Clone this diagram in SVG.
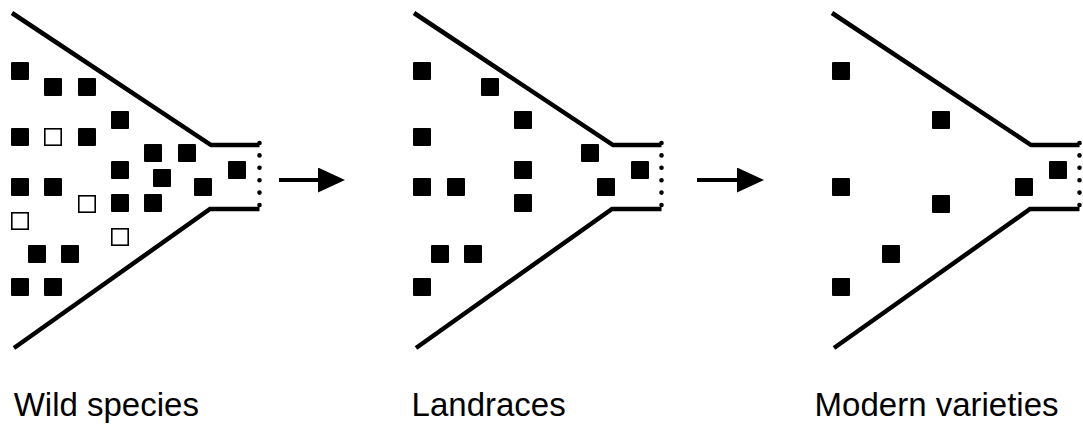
<svg xmlns="http://www.w3.org/2000/svg" width="1083" height="425" viewBox="0 0 1083 425">
  <style>
    .edge { fill: none; stroke: #000; stroke-width: 4.5; stroke-linejoin: miter; }
    .dots { fill: none; stroke: #000; stroke-width: 4.6; stroke-linecap: round; stroke-dasharray: 0 12.4; }
    .sq { fill: #000; }
    .hq { fill: #fff; stroke: #000; stroke-width: 1.6; }
    .arrow { stroke: #000; stroke-width: 4; }
    .label { font-family: "Liberation Sans", Arial, sans-serif; font-size: 33px; fill: #000; }
  </style>
  <defs>
    <g id="funnel">
      <path class="edge" d="M12,13 L211,145 L259.5,145"/>
      <path class="edge" d="M14,348 L210,209 L259.5,209"/>
      <line class="dots" x1="259.5" y1="143" x2="259.5" y2="207"/>
    </g>
    <rect id="s" class="sq" width="18" height="18" rx="1"/>
    <rect id="h" class="hq" x="0.8" y="0.8" width="16.4" height="16.4"/>
    <marker id="head" markerUnits="userSpaceOnUse" markerWidth="28" markerHeight="26" refX="0" refY="12.5" orient="auto">
      <path d="M0,0 L27,12.5 L0,25 Z" fill="#000"/>
    </marker>
  </defs>

  <g id="wild-species">
    <use href="#funnel"/>
    <use href="#s" x="11" y="62"/>
    <use href="#s" x="44" y="78"/>
    <use href="#s" x="78" y="78"/>
    <use href="#s" x="111" y="111"/>
    <use href="#s" x="11" y="128"/>
    <use href="#h" x="44" y="128"/>
    <use href="#s" x="78" y="128"/>
    <use href="#s" x="144" y="144"/>
    <use href="#s" x="178" y="144"/>
    <use href="#s" x="111" y="161"/>
    <use href="#s" x="228" y="161"/>
    <use href="#s" x="153" y="169"/>
    <use href="#s" x="11" y="178"/>
    <use href="#s" x="44" y="178"/>
    <use href="#s" x="194" y="178"/>
    <use href="#h" x="78" y="195"/>
    <use href="#s" x="111" y="194"/>
    <use href="#s" x="144" y="194"/>
    <use href="#h" x="11" y="212"/>
    <use href="#h" x="111" y="228"/>
    <use href="#s" x="28" y="245"/>
    <use href="#s" x="61" y="245"/>
    <use href="#s" x="11" y="278"/>
    <use href="#s" x="44" y="278"/>
    <text class="label" x="13.7" y="416">Wild species</text>
  </g>

  <g id="landraces" transform="translate(402,0)">
    <use href="#funnel"/>
    <use href="#s" x="11" y="62"/>
    <use href="#s" x="79" y="78"/>
    <use href="#s" x="112" y="111"/>
    <use href="#s" x="11" y="128"/>
    <use href="#s" x="179" y="144"/>
    <use href="#s" x="112" y="161"/>
    <use href="#s" x="229" y="161"/>
    <use href="#s" x="11" y="178"/>
    <use href="#s" x="45" y="178"/>
    <use href="#s" x="195" y="178"/>
    <use href="#s" x="112" y="194"/>
    <use href="#s" x="29" y="245"/>
    <use href="#s" x="62" y="245"/>
    <use href="#s" x="11" y="278"/>
    <text class="label" x="9.6" y="416">Landraces</text>
  </g>

  <g id="modern-varieties" transform="translate(820,0)">
    <use href="#funnel"/>
    <use href="#s" x="12" y="62"/>
    <use href="#s" x="112" y="111"/>
    <use href="#s" x="12" y="178"/>
    <use href="#s" x="195" y="178"/>
    <use href="#s" x="229" y="161"/>
    <use href="#s" x="112" y="195"/>
    <use href="#s" x="62" y="245"/>
    <use href="#s" x="12" y="278"/>
    <text class="label" x="-5.4" y="416">Modern varieties</text>
  </g>

  <g id="connectors">
    <line class="arrow" x1="279" y1="180" x2="318" y2="180" marker-end="url(#head)"/>
    <line class="arrow" x1="697" y1="180" x2="737" y2="180" marker-end="url(#head)"/>
  </g>
</svg>
